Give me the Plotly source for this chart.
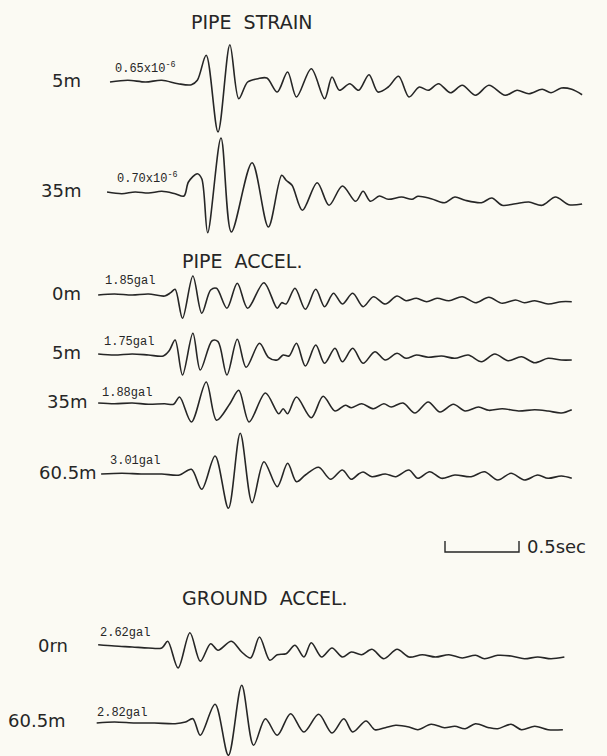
import plotly.graph_objects as go

# ---------------- data (time in s, trace deflection in record units) ----------------
t_strain_5 = [0.00,0.12,0.24,0.35,0.46,0.55,0.59,0.65,0.73,0.81,0.87,0.93,1.00,1.06,1.13,1.20,1.26,1.36,1.45,1.50,1.55,1.62,1.68,1.75,1.81,1.88,1.95,2.02,2.09,2.15,2.22,2.30,2.38,2.47,2.56,2.67,2.75,2.83,2.92,2.98,3.05,3.12,3.19]
a_strain_5 = [0,1.7,0,1.7,-1.7,-2.7,1.7,26.7,-50,37.3,-16.7,0,3.3,4,-10,10,-15,13.3,-16.7,5,-8.3,-1.7,-8.3,7.3,-10,-5,5.7,-15,-5,-8.3,-1.7,-10.7,-3.3,-13.3,-3.3,-13.3,-8.3,-11.7,-7.3,-10.7,-6,-7.3,-12.7]

t_strain_35 = [-0.02,0.08,0.17,0.26,0.35,0.44,0.50,0.53,0.59,0.62,0.66,0.75,0.82,0.96,1.07,1.16,1.19,1.23,1.30,1.40,1.48,1.57,1.66,1.71,1.76,1.82,1.88,1.97,2.04,2.08,2.17,2.26,2.33,2.40,2.51,2.58,2.65,2.74,2.83,2.92,3.01,3.10,3.19]
a_strain_35 = [0,-1.7,0,-1,0.7,-1.7,-4,10,18.3,13.3,-40.7,54,-40,29.3,-35,16.7,11.7,6.7,-18.3,9.3,-13.3,6,-9.3,0.7,-9.3,-4,-7.3,-5,-7.3,-4.3,-6.7,-10.7,-5,-8.3,-10.7,-6,-13.3,-11.7,-10,-13.3,-5,-12.7,-12]

t_accel_0 = [-0.08,0.03,0.15,0.26,0.37,0.41,0.44,0.49,0.56,0.62,0.68,0.72,0.79,0.86,0.93,1.04,1.13,1.16,1.19,1.25,1.32,1.39,1.45,1.51,1.57,1.64,1.71,1.78,1.86,1.94,2.00,2.07,2.14,2.21,2.29,2.38,2.47,2.56,2.65,2.74,2.80,2.87,2.96,3.05,3.12]
a_accel_0 = [0,1,0,1,-1,2.3,5.7,-23.3,19,-18.3,5,6.7,-13.3,11.7,-13.3,12.3,-13.3,-7.7,-9,6.7,-14.3,5.7,-11.7,1.7,-9,1.7,-11.7,-1.7,-9,-1,-5.7,-3.3,-6.7,-3.3,-5.7,-1.7,-7.7,-2.3,-8.3,-5,-7.7,-5.7,-9,-6.7,-6.7]

t_accel_5 = [-0.08,0.03,0.15,0.26,0.36,0.40,0.44,0.49,0.56,0.61,0.69,0.73,0.79,0.86,0.92,1.01,1.07,1.13,1.17,1.21,1.26,1.32,1.39,1.45,1.52,1.57,1.64,1.71,1.79,1.86,1.94,2.00,2.07,2.15,2.24,2.33,2.42,2.51,2.60,2.69,2.78,2.87,2.96,3.05,3.12]
a_accel_5 = [0,-1,0,-1,-2,3.3,14,-21,20.7,-16,13.3,12.3,-21,14.7,-13.3,10.7,-3.3,-6,-1,-2,10.7,-12,9,-9.3,5.7,-7.7,5.7,-9.3,2.3,-6,0.7,-4.3,-1,-3.3,-2,-4.3,-1,-7.7,0,-6.7,-2.7,-8.7,-4.3,-6,-6]

t_accel_35 = [-0.08,0.03,0.15,0.26,0.37,0.43,0.47,0.55,0.65,0.72,0.81,0.87,0.94,1.05,1.14,1.17,1.20,1.26,1.36,1.44,1.52,1.59,1.63,1.70,1.78,1.85,1.90,1.98,2.06,2.15,2.23,2.32,2.40,2.49,2.56,2.65,2.76,2.87,2.96,3.05,3.12]
a_accel_35 = [0,-0.7,0,-1.3,-0.7,-1.3,6,-19,21,-17.3,-0.7,12.7,-19,10,-10.7,-5.7,-10.7,6,-14.7,6.7,-8,-2.3,-4.7,-0.7,-5.7,-0.7,-4,0,-10,1,-9,-1.3,-8,-4,-7.3,-5.7,-8,-6.7,-8,-10,-6.7]

t_accel_60 = [-0.06,0.08,0.21,0.35,0.47,0.55,0.62,0.71,0.80,0.88,0.96,1.04,1.13,1.20,1.26,1.32,1.41,1.49,1.57,1.63,1.68,1.71,1.77,1.86,1.93,2.02,2.08,2.16,2.24,2.33,2.44,2.53,2.62,2.71,2.80,2.89,2.96,3.05,3.12]
a_accel_60 = [0,0.7,0,0,-1,4.7,-15.3,18,-34.3,40.7,-28.7,12.3,-12.7,10.7,-7.7,-1,6.7,-5.3,4,-5.3,0,2,-2.7,0,-2.7,4,-4.3,2.3,-4.3,-1,-2.7,2.3,-6,0.7,-6,-1,-4.3,-2,-4.3]

t_ground_0 = [-0.08,0.03,0.15,0.26,0.35,0.39,0.46,0.54,0.61,0.68,0.73,0.82,0.89,0.95,1.01,1.08,1.13,1.19,1.25,1.31,1.36,1.43,1.50,1.57,1.63,1.70,1.77,1.85,1.94,2.02,2.11,2.20,2.29,2.38,2.47,2.53,2.62,2.71,2.80,2.89,2.98,3.07]
a_ground_0 = [2.3,1,0,-1,-1,5.7,-21,14.3,-14.3,3.3,-3.3,5.7,-5,-11,10,-13.3,-7.7,-6.7,1.7,-10,4.3,-10,-1,-10,-5,-7.7,-2.3,-11.7,-2.3,-10,-7.7,-10,-7.7,-11,-8.3,-11.7,-8.3,-9,-11.7,-10,-11.7,-10]

t_ground_60 = [-0.09,0.03,0.17,0.30,0.44,0.51,0.56,0.61,0.71,0.80,0.89,0.97,1.05,1.13,1.22,1.31,1.41,1.50,1.58,1.64,1.73,1.79,1.86,1.93,2.02,2.08,2.17,2.26,2.33,2.40,2.47,2.56,2.62,2.71,2.78,2.87,2.96,3.06]
a_ground_60 = [-1,0,-1,-1,-1.7,0,3.3,-13.3,17.7,-33.3,36.7,-23.3,3.3,-13.3,8.3,-10,7.7,-11,3.3,-10,1,-7.7,-5.7,-3.3,-5,-7.7,-2.3,-5.7,-4.3,-6.7,-1.7,-5.7,-6.7,-2.3,-7.7,-4.3,-7.7,-7.7]

station_labels = ["5m", "35m", "0m", "5m", "35m", "60.5m", "0rn", "60.5m"]
peak_labels = ["0.65x10<sup>-6</sup>", "0.70x10<sup>-6</sup>", "1.85gal", "1.75gal",
               "1.88gal", "3.01gal", "2.62gal", "2.82gal"]
group_titles = ["PIPE\u00a0\u00a0STRAIN", "PIPE\u00a0\u00a0ACCEL.", "GROUND\u00a0\u00a0ACCEL."]
scale_bar_seconds = 0.5
scale_bar_label = "0.5sec"

# ---------------- layout helpers (page pixel -> axis units) ----------------
W, H = 607, 756
PX0, PX_PER_S = 110.0, 148.0


def X(px):
    return (px - PX0) / PX_PER_S


def Y(py):
    return -py


INK = "#262626"
series = [
    (t_strain_5, a_strain_5, 82, 83, 113, 68),
    (t_strain_35, a_strain_35, 192, 83, 115, 178),
    (t_accel_0, a_accel_0, 295, 83, 103, 281),
    (t_accel_5, a_accel_5, 354, 83, 102, 342),
    (t_accel_35, a_accel_35, 403, 89, 100, 393),
    (t_accel_60, a_accel_60, 474, 99, 108, 461),
    (t_ground_0, a_ground_0, 647, 70, 98, 633),
    (t_ground_60, a_ground_60, 722, 68, 95, 713),
]

fig = go.Figure()
ann = []
for i, (t, a, base, lab_r, pk_l, pk_y) in enumerate(series):
    fig.add_trace(go.Scatter(
        x=t, y=[Y(base) + v for v in a], mode="lines",
        line=dict(color=INK, width=1.6, shape="spline", smoothing=0.9),
        hoverinfo="skip", showlegend=False))
    ann.append(dict(x=X(lab_r), y=Y(base - 2), text=station_labels[i], xanchor="right",
                    yanchor="middle", showarrow=False,
                    font=dict(family="DejaVu Sans", size=18, color=INK)))
    ann.append(dict(x=X(pk_l), y=Y(pk_y), text=peak_labels[i], xanchor="left",
                    yanchor="middle", showarrow=False,
                    font=dict(family="Liberation Mono", size=12, color=INK)))

for txt, cx, cy in zip(group_titles, [252, 242, 265], [22, 261, 598]):
    ann.append(dict(x=X(cx), y=Y(cy), text=txt, xanchor="center", yanchor="middle",
                    showarrow=False, font=dict(family="DejaVu Sans", size=19, color=INK)))

# scale bar
sb_l = X(445)
sb_r = sb_l + scale_bar_seconds
fig.add_trace(go.Scatter(
    x=[sb_l, sb_l, sb_r, sb_r], y=[Y(541), Y(552), Y(552), Y(541)], mode="lines",
    line=dict(color=INK, width=1.4), hoverinfo="skip", showlegend=False))
ann.append(dict(x=sb_r + X(525) - X(519), y=Y(546), text=scale_bar_label, xanchor="left",
                yanchor="middle", showarrow=False,
                font=dict(family="DejaVu Sans", size=18, color=INK)))

fig.update_layout(
    width=W, height=H, margin=dict(l=0, r=0, t=0, b=0),
    paper_bgcolor="#fbfaf3", plot_bgcolor="#fbfaf3",
    xaxis=dict(range=[X(0), X(W)], visible=False, fixedrange=True),
    yaxis=dict(range=[Y(H), Y(0)], visible=False, fixedrange=True),
    annotations=ann, showlegend=False,
)
fig.write_html("out.html", config={"displayModeBar": False},
               post_script="document.body.style.margin='0px';")
